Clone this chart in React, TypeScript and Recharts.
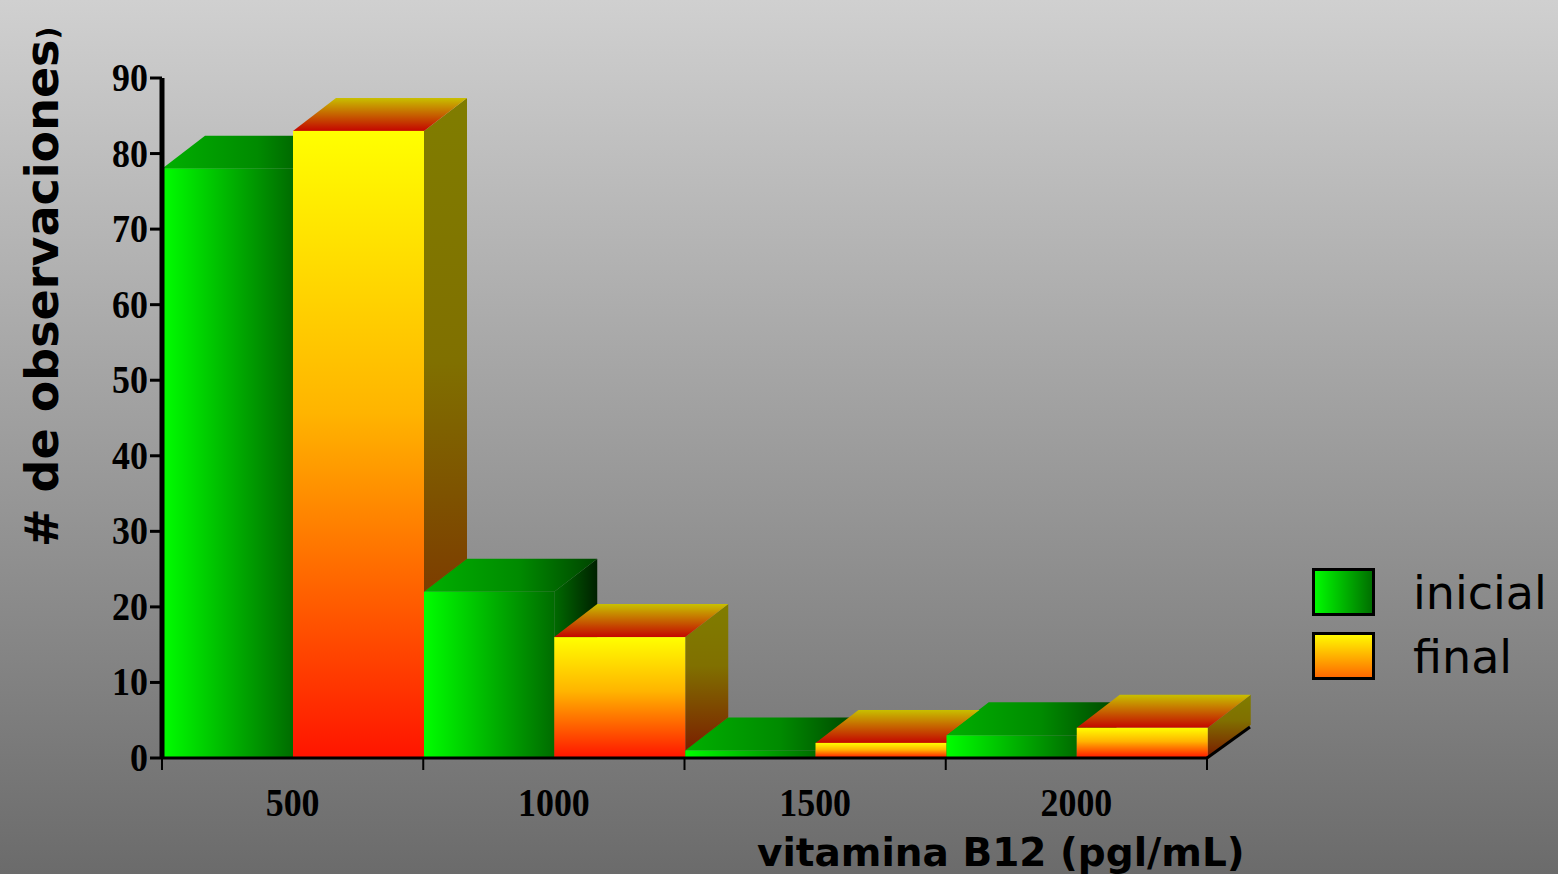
import React from "react";
import { BarChart, Bar, XAxis, YAxis, Label } from "recharts";

const CATEGORIES = ["500", "1000", "1500", "2000"];
const INICIAL = [78, 22, 1, 3];
const FINAL = [83, 16, 2, 4];
const Y_TICKS = [0, 10, 20, 30, 40, 50, 60, 70, 80, 90];
const SERIES = [
  { key: "inicial", name: "inicial" },
  { key: "final", name: "final" },
];

const DATA = CATEGORIES.map((cat, i) => ({ cat, inicial: INICIAL[i], final: FINAL[i] }));

// depth of the fake 3d boxes
const DX = 43;
const DY = -33;

function Box3D(props: any) {
  const { x, y, width: w, height: h, index, series } = props;
  if (h == null || w == null) return null;
  const base = y + h;
  const top = `${x},${y} ${x + DX},${y + DY} ${x + w + DX},${y + DY} ${x + w},${y}`;
  const side = `${x + w},${y} ${x + w + DX},${y + DY} ${x + w + DX},${base + DY} ${x + w},${base}`;

  if (series === "inicial") {
    return (
      <g>
        <polygon points={side} fill="url(#gSide)" />
        <polygon points={top} fill="url(#gTop)" />
        <rect x={x} y={y} width={w} height={h} fill="url(#gFront)" />
      </g>
    );
  }

  // final bars: hide the part that sits behind the next green box
  const val = FINAL[index];
  const ppu = val ? h / val : 0;
  const nextVal = INICIAL[index + 1] ?? 0;
  const gy = base - nextVal * ppu;
  const L = x - 300;
  const T = -1000;
  const R = x + w + DX + 5;
  const B = base + 300;
  const ry = gy + (DY * (DX + 5)) / DX;
  const clipId = `clip-final-${index}`;
  return (
    <g>
      <defs>
        <clipPath id={clipId}>
          <polygon points={`${L},${T} ${R},${T} ${R},${ry} ${x + w},${gy} ${x + w},${B} ${L},${B}`} />
        </clipPath>
      </defs>
      <g clipPath={`url(#${clipId})`}>
        <polygon points={side} fill="url(#ySide)" />
        <polygon points={top} fill="url(#yTop)" />
        <rect x={x} y={y} width={w} height={h} fill="url(#yFront)" />
      </g>
    </g>
  );
}

function XTick(props: any) {
  const { x, y, payload, index, visibleTicksCount } = props;
  const off = payload?.offset ?? 0;
  const last = index === visibleTicksCount - 1;
  return (
    <g>
      <line x1={x - off} y1={y} x2={x - off} y2={y + 12} stroke="#000" strokeWidth={2} />
      {last && (
        <>
          <line x1={x + off} y1={y} x2={x + off} y2={y + 12} stroke="#000" strokeWidth={2} />
          <line x1={x + off} y1={y} x2={x + off + DX} y2={y + DY + 2} stroke="#000" strokeWidth={3} />
        </>
      )}
      <text
        transform={`translate(${x}, ${y + 58}) scale(0.97, 1.1)`}
        textAnchor="middle"
        fontFamily="'Liberation Serif', serif"
        fontWeight="bold"
        fontSize={37}
        fill="#000"
      >
        {payload.value}
      </text>
    </g>
  );
}

function YTick(props: any) {
  const { x, y, payload } = props;
  return (
    <text
      transform={`translate(${x}, ${y + 13}) scale(0.97, 1.1)`}
      textAnchor="end"
      fontFamily="'Liberation Serif', serif"
      fontWeight="bold"
      fontSize={37}
      fill="#000"
    >
      {payload.value}
    </text>
  );
}

export default function App() {
  return (
    <div
      style={{
        position: "absolute",
        left: 0,
        top: 0,
        width: 1558,
        height: 874,
        background: "linear-gradient(#d0d0d0, #6b6b6b)",
        overflow: "hidden",
      }}
    >
      <svg width={0} height={0} style={{ position: "absolute" }}>
        <defs>
          <linearGradient id="gFront" x1="0" y1="0" x2="1" y2="0">
            <stop offset="0%" stopColor="#00ff00" />
            <stop offset="100%" stopColor="#006c00" />
          </linearGradient>
          <linearGradient id="gTop" x1="0" y1="0" x2="1" y2="0">
            <stop offset="0%" stopColor="#00b000" />
            <stop offset="55%" stopColor="#008a00" />
            <stop offset="100%" stopColor="#004400" />
          </linearGradient>
          <linearGradient id="gSide" x1="0" y1="0" x2="1" y2="0">
            <stop offset="0%" stopColor="#006a00" />
            <stop offset="100%" stopColor="#002000" />
          </linearGradient>
          <linearGradient id="yFront" x1="0" y1="0" x2="0" y2="1">
            <stop offset="0%" stopColor="#ffff00" />
            <stop offset="45%" stopColor="#ffb400" />
            <stop offset="100%" stopColor="#ff1400" />
          </linearGradient>
          <linearGradient id="yTop" x1="0" y1="0" x2="0" y2="1">
            <stop offset="0%" stopColor="#c8c000" />
            <stop offset="100%" stopColor="#c40600" />
          </linearGradient>
          <linearGradient id="ySide" x1="0" y1="0" x2="0" y2="1">
            <stop offset="0%" stopColor="#807d00" />
            <stop offset="40%" stopColor="#807000" />
            <stop offset="100%" stopColor="#7a1800" />
          </linearGradient>
          <linearGradient id="legG" x1="0" y1="0" x2="1" y2="0">
            <stop offset="0%" stopColor="#00ff00" />
            <stop offset="100%" stopColor="#006c00" />
          </linearGradient>
          <linearGradient id="legY" x1="0" y1="0" x2="0" y2="1">
            <stop offset="0%" stopColor="#ffff00" />
            <stop offset="100%" stopColor="#ff6400" />
          </linearGradient>
        </defs>
      </svg>

      <BarChart
        width={1558}
        height={874}
        data={DATA}
        margin={{ top: 78, right: 351, bottom: 0, left: 0 }}
        barCategoryGap={0}
        barGap={0}
      >
        {SERIES.map((s) => (
          <Bar
            key={s.key}
            dataKey={s.key}
            name={s.name}
            isAnimationActive={false}
            shape={(p: any) => <Box3D {...p} series={s.key} />}
          />
        ))}
        <XAxis
          dataKey="cat"
          height={116}
          axisLine={{ stroke: "#000", strokeWidth: 3 }}
          tickLine={false}
          tickSize={0}
          tickMargin={0}
          interval={0}
          tick={<XTick />}
        >
          <Label
            content={() => (
              <text
                x={757}
                y={866}
                fontFamily="'DejaVu Sans', sans-serif"
                fontWeight="bold"
                fontSize={39}
                fill="#000"
              >
                vitamina B12 (pgl/mL)
              </text>
            )}
          />
        </XAxis>
        <YAxis
          width={162}
          domain={[0, 90]}
          ticks={Y_TICKS}
          interval={0}
          axisLine={{ stroke: "#000", strokeWidth: 5 }}
          tickLine={{ stroke: "#000", strokeWidth: 3 }}
          tickSize={12}
          tickMargin={2}
          tick={<YTick />}
        >
          <Label
            content={() => (
              <text
                transform="translate(58,547) rotate(-90)"
                fontFamily="'DejaVu Sans', sans-serif"
                fontWeight="bold"
                fontSize={46}
                fill="#000"
              >
                # de observaciones<tspan fontSize={28}>)</tspan>
              </text>
            )}
          />
        </YAxis>
      </BarChart>

      <svg width={260} height={140} style={{ position: "absolute", left: 1298, top: 556 }}>
        {SERIES.map((s, i) => (
          <g key={s.key} transform={`translate(0, ${i * 64})`}>
            <rect
              x={15.5}
              y={13.5}
              width={60}
              height={45}
              fill={i === 0 ? "url(#legG)" : "url(#legY)"}
              stroke="#000"
              strokeWidth={3}
            />
            <text x={115} y={53} fontFamily="'DejaVu Sans', sans-serif" fontSize={46} fill="#000">
              {s.name}
            </text>
          </g>
        ))}
      </svg>
    </div>
  );
}
